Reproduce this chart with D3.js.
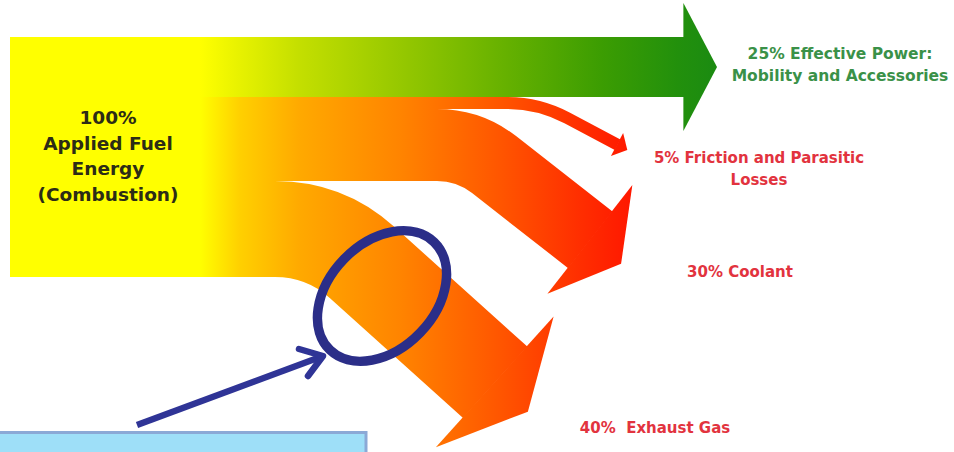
<!DOCTYPE html>
<html>
<head>
<meta charset="utf-8">
<script src="https://cdn.jsdelivr.net/npm/d3@7"></script>
<style>
  html, body { margin: 0; padding: 0; background: #ffffff; overflow: hidden; }
  svg { display: block; }
  text { font-family: "DejaVu Sans", Verdana, sans-serif; font-weight: bold; white-space: pre; }
</style>
</head>
<body>
<svg id="chart" width="954" height="452"></svg>
<script>
// Where the energy of the burned fuel goes, in percent of the applied fuel energy.
const sourceLines = ["100%", "Applied Fuel", "Energy", "(Combustion)"];
const sourceTotal = 100;
const categories = ["Effective Power", "Friction and Parasitic Losses", "Coolant", "Exhaust Gas"];
const shares = [25, 5, 30, 40];
const labelLines = [
  ["25% Effective Power:", "Mobility and Accessories"],
  ["5% Friction and Parasitic", "Losses"],
  ["30% Coolant"],
  ["40%  Exhaust Gas"]
];

// Route of each flow: x of its bend, fall angle (deg), length of the fall,
// rounding of the bend and the size of the arrow head.
const routes = [
  { corner: 684, angle: 0,  run: 0,   bend: 0,  overhang: 34, head: 33, paint: "gradPower" },
  { corner: 539, angle: 28, run: 89,  bend: 32, overhang: 7,  head: 11, paint: "gradHeat" },
  { corner: 469, angle: 38, run: 154, bend: 32, overhang: 33, head: 39, paint: "gradHeat" },
  { corner: 325, angle: 42, run: 229, bend: 50, overhang: 40, head: 44, paint: "gradHeat" }
];
const labelPlaces = [
  { x: 840, y: 59,  size: 15.5, color: "#3a9148" },
  { x: 759, y: 163, size: 15,   color: "#e2333e" },
  { x: 740, y: 277, size: 15,   color: "#e2333e" },
  { x: 655, y: 433, size: 15,   color: "#e2333e" }
];

const svg = d3.select("#chart");
const x0 = 10;
const y = d3.scaleLinear().domain([0, sourceTotal]).range([37, 277]);

// Colour ramps running left to right across the whole drawing.
const defs = svg.append("defs");
function ramp(id, x1, x2, stops) {
  const g = defs.append("linearGradient").attr("id", id)
    .attr("gradientUnits", "userSpaceOnUse")
    .attr("x1", x1).attr("x2", x2).attr("y1", 0).attr("y2", 0);
  g.selectAll("stop").data(stops).join("stop")
    .attr("offset", d => d[0]).attr("stop-color", d => d[1]);
}
ramp("gradPower", 200, 720, [
  [0, "#ffff00"], [0.08, "#e6f100"], [0.19, "#c4df00"], [0.385, "#96c800"],
  [0.577, "#68b200"], [0.77, "#3c9d02"], [0.92, "#22900c"], [1, "#1a8a12"]
]);
ramp("gradHeat", 200, 640, [
  [0, "#ffff00"], [0.09, "#ffd000"], [0.227, "#ffa900"], [0.455, "#ff8400"],
  [0.68, "#ff5600"], [0.864, "#ff2e00"], [1, "#ff1400"]
]);

// Stack the flows over the height of the source block.
const starts = [0, ...d3.cumsum(shares)];
const flows = shares.map((v, i) => {
  const r = routes[i];
  const w = y(starts[i + 1]) - y(starts[i]);
  const yc = y(starts[i] + v / 2);
  const a = r.angle * Math.PI / 180;
  const u = [Math.cos(a), Math.sin(a)];
  const n = [-Math.sin(a), Math.cos(a)];
  const end = [r.corner + r.run * u[0], yc + r.run * u[1]];
  return { name: categories[i], value: v, w, yc, u, n, end, route: r };
});

function centreLine(f) {
  const r = f.route;
  const p = d3.path();
  p.moveTo(x0, f.yc);
  if (r.run === 0) {
    p.lineTo(r.corner, f.yc);
  } else {
    p.lineTo(r.corner - r.bend, f.yc);
    p.quadraticCurveTo(r.corner, f.yc, r.corner + r.bend * f.u[0], f.yc + r.bend * f.u[1]);
    p.lineTo(f.end[0], f.end[1]);
  }
  return p.toString();
}

function headShape(f) {
  const r = f.route;
  const half = f.w / 2 + r.overhang;
  const [ex, ey] = [f.end[0] - f.u[0] * 0.6, f.end[1] - f.u[1] * 0.6];
  const pts = [
    [ex - f.n[0] * half, ey - f.n[1] * half],
    [f.end[0] + f.u[0] * r.head, f.end[1] + f.u[1] * r.head],
    [ex + f.n[0] * half, ey + f.n[1] * half]
  ];
  return d3.line()(pts) + "Z";
}

const order = [3, 2, 1, 0];
const flowG = svg.append("g").attr("class", "flows");
const groups = flowG.selectAll("g").data(order.map(i => flows[i])).join("g");
groups.append("path")
  .attr("d", centreLine)
  .attr("fill", "none")
  .attr("stroke", f => `url(#${f.route.paint})`)
  .attr("stroke-width", f => f.w)
  .attr("stroke-linecap", "butt");
groups.append("path")
  .attr("d", headShape)
  .attr("fill", f => `url(#${f.route.paint})`);

// Source label inside the yellow block.
svg.append("g").selectAll("text").data(sourceLines).join("text")
  .attr("x", 108)
  .attr("y", (d, i) => 124 + i * 25.5)
  .attr("text-anchor", "middle")
  .attr("font-size", 18.5)
  .attr("fill", "#2c2c16")
  .text(d => d);

// Destination labels.
const lab = svg.append("g").selectAll("text").data(labelLines).join("text")
  .attr("text-anchor", "middle")
  .attr("font-size", (d, i) => labelPlaces[i].size)
  .attr("fill", (d, i) => labelPlaces[i].color);
lab.each(function (lines, i) {
  const p = labelPlaces[i];
  d3.select(this).selectAll("tspan").data(lines).join("tspan")
    .attr("x", p.x)
    .attr("y", (d, j) => p.y + j * 21.5)
    .text(d => d);
});

// Call-out: ring around the exhaust stream and a pointer from the note box.
const note = svg.append("g").attr("class", "callout");
note.append("ellipse")
  .attr("cx", 382).attr("cy", 296).attr("rx", 75).attr("ry", 53)
  .attr("transform", "rotate(-46 382 296)")
  .attr("fill", "none").attr("stroke", "#2b2e88").attr("stroke-width", 9.5);
const pointer = [[137, 425], [323, 356]];
note.append("path")
  .attr("d", d3.line()(pointer))
  .attr("stroke", "#2f3496").attr("stroke-width", 6.5).attr("stroke-linecap", "butt");
note.append("path")
  .attr("d", d3.line()([[299, 349], [323, 356], [308, 376]]))
  .attr("fill", "none").attr("stroke", "#2f3496").attr("stroke-width", 6.5)
  .attr("stroke-linecap", "round").attr("stroke-linejoin", "round");
note.append("rect")
  .attr("x", -3).attr("y", 432.5).attr("width", 369).attr("height", 30)
  .attr("fill", "#9edff8").attr("stroke", "#8ba9d6").attr("stroke-width", 3);
</script>
</body>
</html>
